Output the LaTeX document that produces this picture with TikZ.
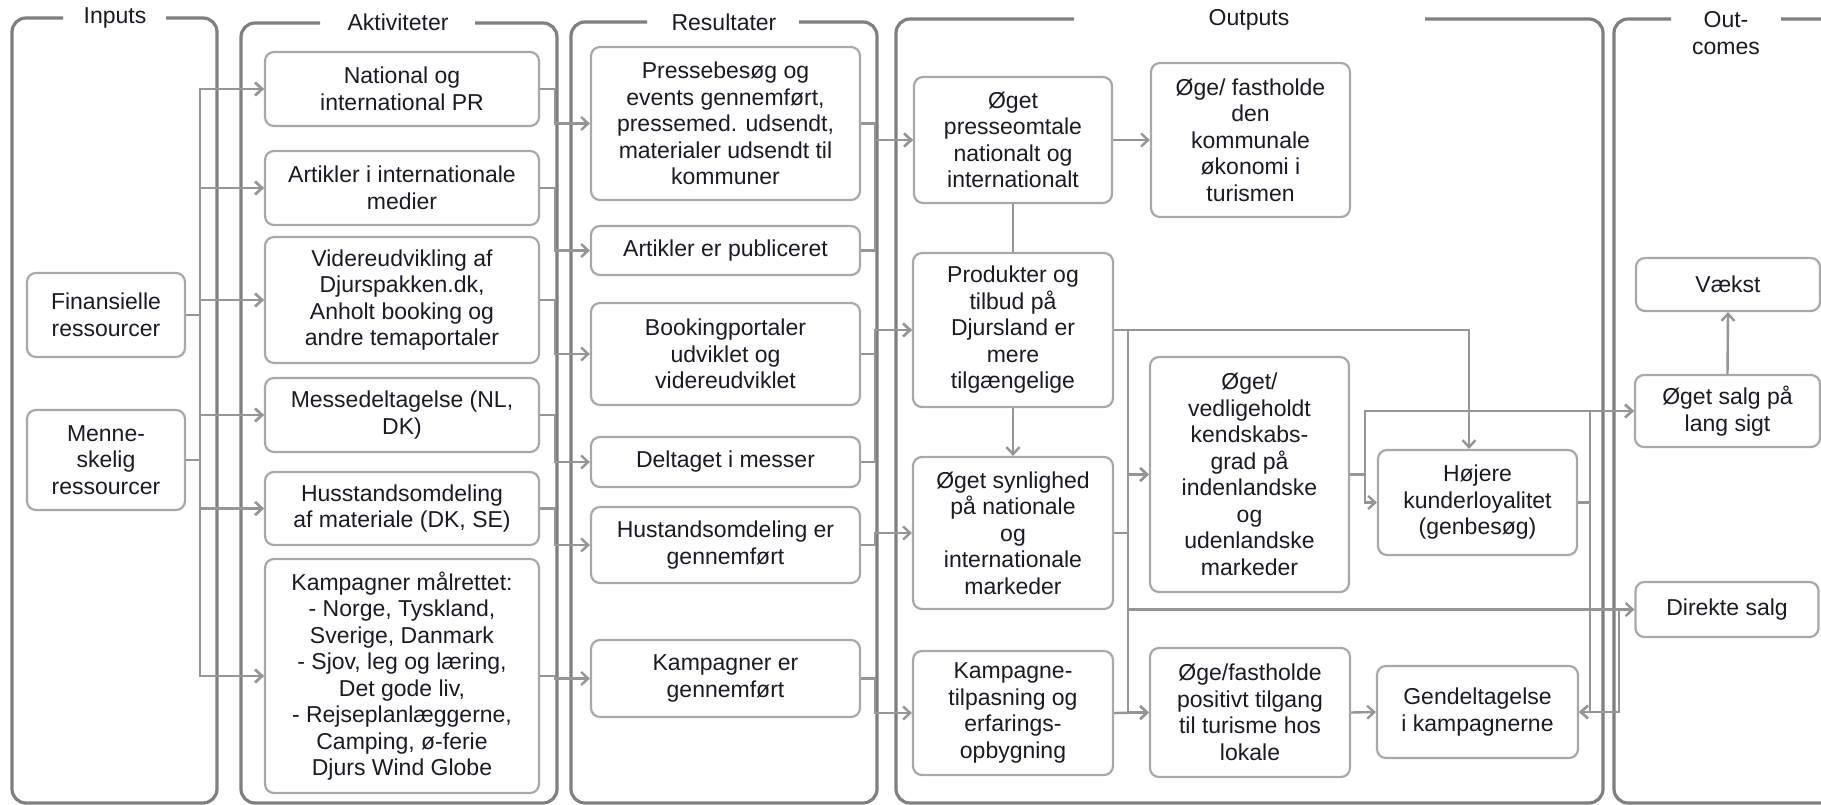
\documentclass[tikz,border=0pt]{standalone}
\usepackage{fontspec}
\setmainfont{Liberation Sans}
\usetikzlibrary{arrows.meta}
\definecolor{framegray}{HTML}{7F7F7F}
\definecolor{boxgray}{HTML}{A8A8A8}
\definecolor{linkgray}{HTML}{959595}
\definecolor{ink}{HTML}{1A1A26}

\begin{document}
\begin{tikzpicture}[x=1pt,y=-1pt,
  every node/.style={font=\fontsize{23}{26.5}\selectfont, text=ink},
  box/.style={draw=boxgray, line width=2.2pt, rounded corners=9pt, align=center, inner sep=0pt, fill=white},
  frame/.style={draw=framegray, line width=3.2pt, rounded corners=14pt},
  link/.style={draw=linkgray, line width=2.4pt},
  arr/.style={link, -{Straight Barb[length=7pt,width=13pt]}},
  title/.style={align=center, inner sep=0pt}
]
\useasboundingbox (0,0) rectangle (1821,805);
\fill[white] (0,0) rectangle (1821,805);
\clip (0,0) rectangle (1821,805);

% column frames with their headings
\draw[frame] (166,18) -- (217,18) -- (217,803) -- (12,803) -- (12,18) -- (63,18);
\draw[frame] (475,23) -- (557,23) -- (557,803) -- (241,803) -- (241,23) -- (320,23);
\draw[frame] (799,22) -- (877,22) -- (877,803) -- (571,803) -- (571,22) -- (647,22);
\draw[frame] (1425,19) -- (1603,19) -- (1603,803) -- (896,803) -- (896,19) -- (1074,19);
\draw[frame] (1781,19) -- (1850,19) -- (1850,803) -- (1614,803) -- (1614,19) -- (1671,19);
\node[title] (tIn)  at (115,18)  {Inputs};
\node[title] (tAkt) at (398,22)  {Aktiviteter};
\node[title] (tRes) at (724,22)  {Resultater};
\node[title] (tOut) at (1249,20) {Outputs};
\node[title] (tCom) at (1726,33) {Out-\\comes};

% bus positions
\coordinate (busIn)   at (200,0);
\coordinate (busAct)  at (555,0);
\coordinate (busRes)  at (875,0);
\coordinate (busOut)  at (1128,0);
\coordinate (busKend) at (1365,0);
\coordinate (busLoy)  at (1590,0);
\coordinate (busDir)  at (1619,0);
\coordinate (loyIn)   at (1469,0);

% inputs
\node[box, minimum width=158pt, minimum height=84pt]  (i1) at (106,315) {Finansielle\\ressourcer};
\node[box, minimum width=158pt, minimum height=100pt] (i2) at (106,460) {Menne-\\skelig\\ressourcer};

% activities
\node[box, minimum width=274pt, minimum height=74pt]  (a1) at (402,89)    {National og\\international PR};
\node[box, minimum width=274pt, minimum height=74pt]  (a2) at (402,188)   {Artikler i internationale\\medier};
\node[box, minimum width=274pt, minimum height=126pt] (a3) at (402,300)   {Videreudvikling af\\Djurspakken.dk,\\Anholt booking og\\andre temaportaler};
\node[box, minimum width=274pt, minimum height=74pt]  (a4) at (402,415)   {Messedeltagelse (NL,\\DK)};
\node[box, minimum width=274pt, minimum height=73pt]  (a5) at (402,508.5) {Husstandsomdeling\\af materiale (DK, SE)};
\node[box, minimum width=274pt, minimum height=234pt] (a6) at (402,676)   {Kampagner målrettet:\\- Norge, Tyskland,\\Sverige, Danmark\\- Sjov, leg og læring,\\Det gode liv,\\- Rejseplanlæggerne,\\Camping, ø-ferie\\Djurs Wind Globe};

% results
\node[box, minimum width=269pt, minimum height=153pt] (r1) at (725.5,123.5) {Pressebesøg og\\events gennemført,\\pressemed. udsendt,\\materialer udsendt til\\kommuner};
\node[box, minimum width=269pt, minimum height=49pt]  (r2) at (725.5,250.5) {Artikler er publiceret};
\node[box, minimum width=269pt, minimum height=102pt] (r3) at (725.5,354)   {Bookingportaler\\udviklet og\\videreudviklet};
\node[box, minimum width=269pt, minimum height=50pt]  (r4) at (725.5,462)   {Deltaget i messer};
\node[box, minimum width=269pt, minimum height=76pt]  (r5) at (725.5,545)   {Hustandsomdeling er\\gennemført};
\node[box, minimum width=269pt, minimum height=77pt]  (r6) at (725.5,678.5) {Kampagner er\\gennemført};

% outputs
\node[box, minimum width=198pt, minimum height=126pt] (o1) at (1013,140)    {Øget\\presseomtale\\nationalt og\\internationalt};
\node[box, minimum width=199pt, minimum height=154pt] (o2) at (1250.5,140)  {Øge/ fastholde\\den\\kommunale\\økonomi i\\turismen};
\node[box, minimum width=200pt, minimum height=154pt] (o3) at (1013,330)    {Produkter og\\tilbud på\\Djursland er\\mere\\tilgængelige};
\node[box, minimum width=200pt, minimum height=152pt] (o4) at (1013,533)    {Øget synlighed\\på nationale\\og\\internationale\\markeder};
\node[box, minimum width=200pt, minimum height=124pt] (o5) at (1013,713)    {Kampagne-\\tilpasning og\\erfarings-\\opbygning};
\node[box, minimum width=199pt, minimum height=235pt] (o6) at (1249.5,474.5){Øget/\\vedligeholdt\\kendskabs-\\grad på\\indenlandske\\og\\udenlandske\\markeder};
\node[box, minimum width=200pt, minimum height=129pt] (o7) at (1250,712.5)  {Øge/fastholde\\positivt tilgang\\til turisme hos\\lokale};
\node[box, minimum width=199pt, minimum height=105pt] (o8) at (1477.5,502.5){Højere\\kunderloyalitet\\(genbesøg)};
\node[box, minimum width=201pt, minimum height=92pt]  (o9) at (1477.5,712)  {Gendeltagelse\\i kampagnerne};

% outcomes
\node[box, minimum width=184pt, minimum height=53pt] (c1) at (1728,284.5)  {Vækst};
\node[box, minimum width=185pt, minimum height=72pt] (c2) at (1727.5,411)  {Øget salg på\\lang sigt};
\node[box, minimum width=183pt, minimum height=55pt] (c3) at (1727,609.5)  {Direkte salg};

% inputs to activities
\foreach \s in {i1,i2}
  \foreach \t in {a1,a2,a3,a4,a5,a6}
    \draw[arr] (\s.east) -- (\s.east -| busIn) |- (\t.west);

% activities to results
\foreach \k in {1,...,6}
  \draw[arr] (a\k.east) -- (a\k.east -| busAct) |- (r\k.west);

% results to outputs
\draw[arr] (r1.east) -- (r1.east -| busRes) |- (o1.west);
\draw[arr] (r2.east) -- (r2.east -| busRes) |- (o1.west);
\draw[arr] (r3.east) -- (r3.east -| busRes) |- (o3.west);
\draw[arr] (r4.east) -- (r4.east -| busRes) |- (o3.west);
\draw[arr] (r5.east) -- (r5.east -| busRes) |- (o4.west);
\draw[arr] (r6.east) -- (r6.east -| busRes) |- (o5.west);

% within outputs
\draw[arr]  (o1.east) -- (o2.west);
\draw[link] (o1.south) -- (o3.north);
\draw[arr]  (o3.south) -- (o4.north);
\draw[arr]  (o3.east) -| (loyIn |- o8.north);
\draw[arr]  (o3.east) -- (o3.east -| busOut) |- (o6.west);
\draw[arr]  (o4.east) -- (o4.east -| busOut) |- (o6.west);
\draw[arr]  (o4.east) -- (o4.east -| busOut) |- (o7.west);
\draw[arr]  (o5.east) -- (o7.west);
\draw[arr]  (o7.east) -- (o9.west);
\draw[arr]  (o4.east) -- (o4.east -| busOut) |- (c3.west);
\draw[arr]  (o4.east) -- (o4.east -| busOut) |- (busDir |- c3.west) |- (o9.east);
\draw[arr]  (o6.east) -- (o6.east -| busKend) |- (o8.west);
\draw[arr]  (o6.east) -- (o6.east -| busKend) |- (c2.west);
\draw[arr]  (o8.east) -- (o8.east -| busLoy) |- (c2.west);
\draw[arr]  (o8.east) -- (o8.east -| busLoy) |- (o9.east);

% outcomes
\draw[arr] (c2.north) -- (c1.south);
\end{tikzpicture}
\end{document}
